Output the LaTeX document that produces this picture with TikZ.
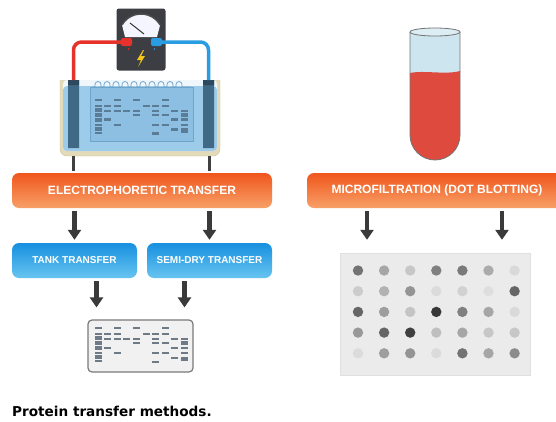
\documentclass[tikz,border=0pt]{standalone}
\usepackage{fontspec}
\setmainfont{Liberation Sans}
\newfontfamily\captionfont{DejaVu Sans}
\usepackage{tikz}
\usetikzlibrary{arrows.meta, calc, positioning}

\definecolor{orangetop}{HTML}{F0561C}
\definecolor{orangebot}{HTML}{F7A067}
\definecolor{bluetop}{HTML}{1790E0}
\definecolor{bluebot}{HTML}{68C4F0}
\definecolor{arrowgrey}{HTML}{3A3A3A}
\definecolor{tankbeige}{HTML}{E3DAB9}
\definecolor{tankedge}{HTML}{CFC49E}
\definecolor{buffer}{HTML}{9DCBEA}
\definecolor{gelblue}{HTML}{8CBFE2}
\definecolor{geledge}{HTML}{6FA4CB}
\definecolor{gelband}{HTML}{5B7C96}
\definecolor{electrode}{HTML}{3F6985}
\definecolor{meterbody}{HTML}{3C3E43}
\definecolor{wirered}{HTML}{E6322B}
\definecolor{wireblue}{HTML}{2A9DE2}
\definecolor{bolt}{HTML}{F4C41A}
\definecolor{tubered}{HTML}{DF4A3E}
\definecolor{tubeblue}{HTML}{CDE5EF}
\definecolor{membfill}{HTML}{F1F1F1}
\definecolor{membedge}{HTML}{7A7A7A}
\definecolor{membband}{HTML}{6E7A85}
\definecolor{plategrey}{HTML}{EBEBEB}

\tikzset{
  method/.style={rounded corners=7pt, top color=orangetop, bottom color=orangebot,
    text=white, font=\bfseries\fontsize{12}{14}\selectfont,
    minimum width=260pt, minimum height=35pt, inner sep=0pt},
  variant/.style={rounded corners=7pt, top color=bluetop, bottom color=bluebot,
    text=white, font=\bfseries\fontsize{10}{12}\selectfont,
    minimum width=125pt, minimum height=35pt, inner sep=0pt},
  arr/.style={draw=arrowgrey, line width=4.5pt, -{Triangle[width=13pt,length=10pt]}},
  wire/.style={line width=3.5pt, rounded corners=8pt},
}

% band pattern of the gel, lane/offset
\newcommand{\gelbands}[3]{%
  \foreach \l/\o in {0/0,0/6,0/8.5,0/11,0/13.5,0/16,0/18.5,0/21,0/25,0/27.5,0/30,0/33,
                     1/6,1/10.7,1/19.4, 2/0,2/6,2/10.7,2/25, 3/10.7, 4/0,4/10.7,4/15, 5/6,
                     6/6,6/10.7,6/15,6/25,6/33.4, 7/0,7/6,7/15,7/25, 8/10.7,8/19.4,8/29.4,
                     9/10.7,9/13.5,9/16,9/19.4,9/25,9/29.4,9/31.8}
    \fill[#3] ($(#1+9.6*\l-3.5, #2+\o-1)$) rectangle ++(7,2.1);
}

\begin{document}
\begin{tikzpicture}[x=1pt, y=1pt, yscale=-1]
\clip (0,0) rectangle (556,421);
\fill[white] (0,0) rectangle (556,421);

% tank
\draw[fill=tankbeige, draw=tankedge, rounded corners=7pt] (60,80) -- (60,156) -- (220,156) -- (220,80);
\fill[white!85!buffer, rounded corners=4pt] (63,80) -- (63,151) -- (217,151) -- (217,80) -- cycle;
\fill[buffer, rounded corners=4pt] (63,86) -- (63,151) -- (217,151) -- (217,86) -- cycle;
\draw[black!75, line width=3pt] (73,156) -- (73,171) (209,156) -- (209,171);

% gel with comb
\draw[fill=gelblue, draw=geledge, line width=0.7pt] (90,87) rectangle (193,141);
\draw[geledge, line width=0.8pt] (92,87)
  \foreach \i in {0,...,9} { -- ++(3,0) -- ++(0,-2.5) arc[start angle=180, end angle=360, radius=3] -- ++(0,2.5) }
  -- (191,87);
\gelbands{98}{100}{gelband}

% electrodes
\coordinate (anode) at (73.5,80);
\coordinate (cathode) at (208.5,80);
\fill[electrode] (68,80) rectangle (79,148) (203,80) rectangle (214,148);
\fill[electrode!70!black] (68,80) rectangle (79,85) (203,80) rectangle (214,85);

% meter
\node[fill=meterbody, rounded corners=2.5pt, minimum width=49pt, minimum height=62pt, inner sep=0pt] (meter) at (141,39.5) {};
\fill[white!90!blue!40] (125,37) -- (122,25) arc[start angle=210, end angle=330, radius=22] -- (157,37) -- cycle;
\draw[black!70, line width=1.4pt] (122,25) arc[start angle=210, end angle=330, radius=22];
\draw[black!80, line width=1pt] (144,34) -- (130,23);
\fill[bolt] (143,50) -- (137,60) -- (141,60) -- (138,67) -- (145,56) -- (141,56) -- (144,50) -- cycle;
\coordinate (plus) at (128,42);
\coordinate (minus) at (155,42);
\draw[wire, wirered] (plus) -| (anode);
\draw[wire, wireblue] (minus) -| (cathode);
\fill[wirered, rounded corners=2pt] (121,38) rectangle (132,46);
\fill[wireblue, rounded corners=2pt] (151,38) rectangle (162,46);
\fill[wirered] (128.5,49) circle (0.9);
\fill[wireblue] (154.5,49) circle (0.9);

% test tube
\fill[tubeblue] (410,32) rectangle (460,73);
\fill[tubered] (410,73) .. controls (424,70) and (446,75) .. (460,71) -- (460,135)
  arc[start angle=0, end angle=180, radius=25] -- cycle;
\draw[black!55, line width=0.8pt] (410,32) -- (410,135) arc[start angle=180, end angle=0, radius=25] -- (460,32);
\draw[black!55, fill=tubeblue!70!white, line width=0.8pt] (435,32) ellipse [x radius=25, y radius=4];

% boxes
\node[method] (ep) at (142,190.5) {ELECTROPHORETIC TRANSFER};
\node[method] (mf) at (437,190.5) {MICROFILTRATION (DOT BLOTTING)};
\node[variant] (tank) at (74.5,260.5) {TANK TRANSFER};
\node[variant] (semi) at (209.5,260.5) {SEMI-DRY TRANSFER};

% membrane
\node[draw=membedge, fill=membfill, rounded corners=4pt, line width=1.2pt,
  minimum width=105pt, minimum height=52pt, inner sep=0pt] (memb) at (140.5,346) {};
\gelbands{98}{328.3}{membband}

% dot blot
\node[fill=plategrey, draw=black!12, minimum width=190pt, minimum height=122pt, inner sep=0pt] (dots) at (435,314) {};
\foreach \row [count=\r from 0] in {{55,35,22,50,52,33,15},{20,30,42,14,18,13,60},
    {60,38,23,78,50,35,15},{40,60,75,25,35,22,22},{14,38,42,14,55,35,45}}
  \foreach \g [count=\c from 0] in \row
    \fill[black!\g] (358+26.1*\c, 270.5+20.7*\r) circle (5.2);

% arrows
\draw[arr, shorten <=3pt, shorten >=3pt] (tank.north |- ep.south) -- (tank.north);
\draw[arr, shorten <=3pt, shorten >=3pt] (semi.north |- ep.south) -- (semi.north);
\draw[arr, shorten <=3pt, shorten >=12pt] ([xshift=-44pt]memb.north |- tank.south) -- ([xshift=-44pt]memb.north);
\draw[arr, shorten <=3pt, shorten >=12pt] ([xshift=44pt]memb.north |- semi.south) -- ([xshift=44pt]memb.north);
\draw[arr, shorten <=3pt, shorten >=13pt] ([xshift=-68pt]dots.north |- mf.south) -- ([xshift=-68pt]dots.north);
\draw[arr, shorten <=3pt, shorten >=13pt] ([xshift=67pt]dots.north |- mf.south) -- ([xshift=67pt]dots.north);

\node[anchor=west, font=\captionfont\bfseries\fontsize{13.6}{16}\selectfont, inner sep=0pt] (caption) at (12,411) {Protein transfer methods.};
\end{tikzpicture}
\end{document}
